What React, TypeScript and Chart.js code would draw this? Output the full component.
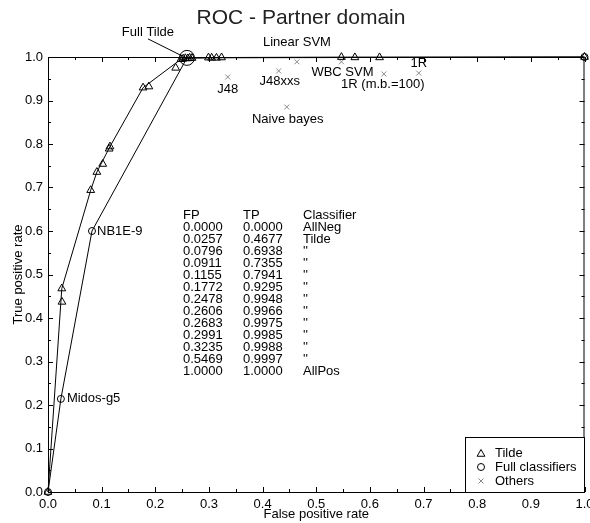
import React, { useEffect, useRef } from "react";
import { Chart, registerables } from "chart.js";

Chart.register(...registerables);

// ---- Data ----
// Tilde convex hull (table values)
const tildeFP = [0.0, 0.0257, 0.0796, 0.0911, 0.1155, 0.1772, 0.2478, 0.2606, 0.2683, 0.2991, 0.3235, 0.5469, 1.0];
const tildeTP = [0.0, 0.4677, 0.6938, 0.7355, 0.7941, 0.9295, 0.9948, 0.9966, 0.9975, 0.9985, 0.9988, 0.9997, 1.0];
const tableClassifiers = ["AllNeg", "Tilde", "''", "''", "''", "''", "''", "''", "''", "''", "''", "''", "AllPos"];

// Other Tilde classifiers (not on hull)
const tildeOtherFP = [0.026, 0.102, 0.114, 0.188, 0.238, 0.252, 0.256, 0.264, 0.305, 0.314, 0.572, 0.618];
const tildeOtherTP = [0.437, 0.754, 0.789, 0.932, 0.975, 0.996, 0.997, 0.998, 0.998, 0.998, 0.999, 0.999];

// Full classifiers
const fullNames = ["", "Midos-g5", "NB1E-9", "Full Tilde", ""];
const fullFP = [0.0, 0.024, 0.082, 0.259, 1.0];
const fullTP = [0.0, 0.214, 0.6, 0.998, 1.0];

// Others
const otherNames = ["J48", "J48xxs", "Linear SVM", "Naive bayes", "WBC SVM", "1R (m.b.=100)", "1R"];
const otherFP = [0.335, 0.43, 0.464, 0.445, 0.547, 0.626, 0.691];
const otherTP = [0.954, 0.968, 0.989, 0.885, 0.989, 0.961, 0.963];

const legendLabels = ["Tilde", "Full classifiers", "Others"];

// ---- Styles ----
const FONT = "'Liberation Sans', Arial, sans-serif";
const GRAY = "#888888";
const labelPlacement: Record<string, { dx: number; dy: number; align: CanvasTextAlign }> = {
  "J48": { dx: 0, dy: 12, align: "center" },
  "J48xxs": { dx: 1, dy: 11, align: "center" },
  "Linear SVM": { dx: 0, dy: -19, align: "center" },
  "Naive bayes": { dx: 1, dy: 12, align: "center" },
  "WBC SVM": { dx: 1, dy: 11, align: "center" },
  "1R (m.b.=100)": { dx: -1, dy: 10, align: "center" },
  "1R": { dx: 0, dy: -10, align: "center" },
  "Midos-g5": { dx: 6, dy: 0, align: "left" },
  "NB1E-9": { dx: 5, dy: 0, align: "left" },
  "Full Tilde": { dx: -39, dy: -25, align: "center" },
};

const pts = (xs: number[], ys: number[]) => xs.map((x, i) => ({ x, y: ys[i] }));

const overlayPlugin = {
  id: "overlay",
  beforeDatasetsDraw(chart: any) {
    const { ctx, chartArea: a, scales } = chart;
    const xs = scales.x;
    const ys = scales.y;
    ctx.save();
    ctx.strokeStyle = "#000";
    ctx.lineWidth = 1;
    // frame
    ctx.strokeRect(a.left + 0.5, a.top + 0.5, a.right - a.left - 1, a.bottom - a.top);
    // inward ticks
    ctx.beginPath();
    for (let i = 0; i <= 20; i++) {
      const v = i * 0.05;
      const len = i % 2 === 0 ? 5 : 3;
      const px = Math.round(xs.getPixelForValue(v)) + 0.5;
      ctx.moveTo(px, a.bottom);
      ctx.lineTo(px, a.bottom - len);
      ctx.moveTo(px, a.top);
      ctx.lineTo(px, a.top + len);
      const py = Math.round(ys.getPixelForValue(v)) + 0.5;
      ctx.moveTo(a.left, py);
      ctx.lineTo(a.left + len, py);
      ctx.moveTo(a.right, py);
      ctx.lineTo(a.right - len, py);
    }
    ctx.stroke();
    ctx.restore();
  },
  afterDatasetsDraw(chart: any) {
    const { ctx, chartArea: a, scales } = chart;
    const xs = scales.x;
    const ys = scales.y;
    ctx.save();
    ctx.strokeStyle = "#000";
    ctx.lineWidth = 1;

    // title
    ctx.fillStyle = "#222";
    ctx.textBaseline = "middle";
    ctx.textAlign = "center";
    ctx.font = `21px ${FONT}`;
    ctx.fillText("ROC - Partner domain", 301, 18);

    // axis titles
    ctx.fillStyle = "#000";
    ctx.font = `13px ${FONT}`;
    ctx.fillText("False positive rate", (a.left + a.right) / 2, 514);
    ctx.save();
    ctx.translate(18, (a.top + a.bottom) / 2);
    ctx.rotate(-Math.PI / 2);
    ctx.fillText("True positive rate", 0, 0);
    ctx.restore();

    // point labels
    ctx.font = `13px ${FONT}`;
    const drawLabel = (name: string, x: number, y: number) => {
      const p = labelPlacement[name];
      if (!p) return;
      const px = xs.getPixelForValue(x);
      const py = ys.getPixelForValue(y);
      ctx.textAlign = p.align;
      ctx.fillText(name, px + p.dx, py + p.dy);
      if (name === "Full Tilde") {
        ctx.beginPath();
        ctx.moveTo(px + p.dx, py + p.dy + 6);
        ctx.lineTo(px - 5, py - 2);
        ctx.stroke();
      }
    };
    otherNames.forEach((n, i) => drawLabel(n, otherFP[i], otherTP[i]));
    fullNames.forEach((n, i) => drawLabel(n, fullFP[i], fullTP[i]));

    // table
    ctx.textAlign = "left";
    const rowH = 12;
    const top = 215;
    ctx.fillText("FP", 183, top);
    ctx.fillText("TP", 243, top);
    ctx.fillText("Classifier", 303, top);
    tildeFP.forEach((fp, i) => {
      const y = top + rowH * (i + 1);
      ctx.fillText(fp.toFixed(4), 183, y);
      ctx.fillText(tildeTP[i].toFixed(4), 243, y);
      ctx.fillText(tableClassifiers[i], 303, y);
    });

    // legend
    const lx = 465, ly = 437, lr = a.right, lb = a.bottom;
    ctx.fillStyle = "#fff";
    ctx.fillRect(lx, ly, lr - lx, lb - ly);
    ctx.strokeRect(lx + 0.5, ly + 0.5, lr - lx - 0.5, lb - ly);
    const sx = 481;
    const rows = [453, 467, 481];
    ctx.beginPath();
    const r = 4.5;
    for (let k = 0; k < 3; k++) {
      const ang = (k * 2 * Math.PI) / 3;
      const X = sx + Math.sin(ang) * r;
      const Y = rows[0] + 1 - Math.cos(ang) * r;
      k === 0 ? ctx.moveTo(X, Y) : ctx.lineTo(X, Y);
    }
    ctx.closePath();
    ctx.stroke();
    ctx.beginPath();
    ctx.arc(sx, rows[1], 3.5, 0, Math.PI * 2);
    ctx.stroke();
    ctx.strokeStyle = GRAY;
    ctx.beginPath();
    ctx.moveTo(sx - 2.5, rows[2] - 2.5);
    ctx.lineTo(sx + 2.5, rows[2] + 2.5);
    ctx.moveTo(sx + 2.5, rows[2] - 2.5);
    ctx.lineTo(sx - 2.5, rows[2] + 2.5);
    ctx.stroke();
    ctx.fillStyle = "#000";
    ctx.textAlign = "left";
    legendLabels.forEach((t, i) => ctx.fillText(t, 495, rows[i]));
    ctx.restore();
  },
};

export default function App() {
  const ref = useRef<HTMLCanvasElement | null>(null);
  useEffect(() => {
    document.body.style.margin = "0";
    const canvas = ref.current;
    if (!canvas) return;
    const chart = new Chart(canvas, {
      type: "scatter",
      data: {
        datasets: [
          {
            label: "Tilde hull",
            data: pts(tildeFP, tildeTP),
            showLine: true,
            clip: false,
            borderColor: "#000",
            borderWidth: 1,
            pointStyle: "triangle",
            pointRadius: 4.5,
            pointBorderColor: "#000",
            pointBackgroundColor: "rgba(0,0,0,0)",
            pointBorderWidth: 1,
          },
          {
            label: "Tilde other",
            data: pts(tildeOtherFP, tildeOtherTP),
            showLine: false,
            clip: false,
            pointStyle: "triangle",
            pointRadius: 4.5,
            pointBorderColor: "#000",
            pointBackgroundColor: "rgba(0,0,0,0)",
            pointBorderWidth: 1,
          },
          {
            label: "Full classifiers",
            data: pts(fullFP, fullTP),
            showLine: true,
            clip: false,
            borderColor: "#000",
            borderWidth: 1,
            pointStyle: "circle",
            pointRadius: [3.5, 3.5, 3.5, 7.5, 3.5],
            pointBorderColor: "#000",
            pointBackgroundColor: "rgba(0,0,0,0)",
            pointBorderWidth: 1,
          },
          {
            label: "Others",
            data: pts(otherFP, otherTP),
            showLine: false,
            clip: false,
            pointStyle: "crossRot",
            pointRadius: 3.5,
            pointBorderColor: GRAY,
            pointBorderWidth: 1,
          },
        ],
      },
      options: {
        responsive: false,
        animation: false,
        layout: { padding: { top: 57, right: 5, left: 0, bottom: 0 } },
        plugins: {
          legend: { display: false },
          tooltip: { enabled: false },
          title: { display: false },
        },
        scales: {
          x: {
            type: "linear",
            min: 0,
            max: 1,
            border: { display: false },
            grid: { display: false, drawTicks: false },
            ticks: {
              stepSize: 0.1,
              padding: 5,
              maxRotation: 0,
              autoSkip: false,
              color: "#000",
              font: { family: FONT, size: 13 },
              callback: (v: any) => Number(v).toFixed(1),
            },
            afterFit: (s: any) => {
              s.height = 31;
              s.paddingLeft = 0;
              s.paddingRight = 0;
            },
          },
          y: {
            type: "linear",
            min: 0,
            max: 1,
            border: { display: false },
            grid: { display: false, drawTicks: false },
            ticks: {
              stepSize: 0.1,
              padding: 5,
              autoSkip: false,
              color: "#000",
              font: { family: FONT, size: 13 },
              callback: (v: any) => Number(v).toFixed(1),
            },
            afterFit: (s: any) => {
              s.width = 48;
              s.paddingTop = 0;
              s.paddingBottom = 0;
            },
          },
        },
      },
      plugins: [overlayPlugin],
    });
    return () => chart.destroy();
  }, []);
  return (
    <div style={{ position: "absolute", left: 0, top: 0, width: 590, height: 523, background: "#fff" }}>
      <canvas ref={ref} width={590} height={523} style={{ display: "block" }} />
    </div>
  );
}
